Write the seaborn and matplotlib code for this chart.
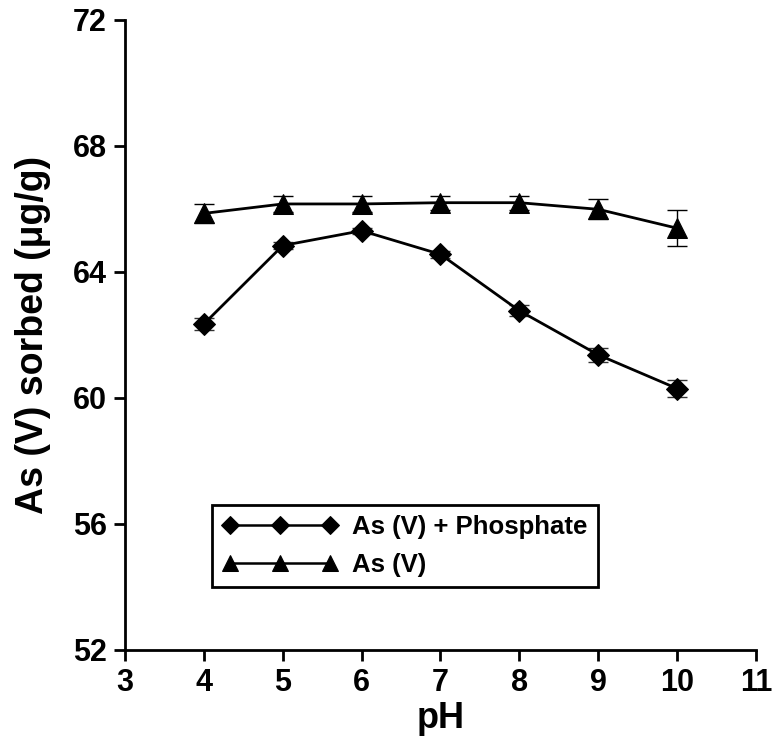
import matplotlib
matplotlib.use("Agg")
import matplotlib.pyplot as plt
import numpy as np
import pandas as pd
import seaborn as sns

ph = [4, 5, 6, 7, 8, 9, 10]
as_phosphate = [62.35, 64.84, 65.31, 64.56, 62.77, 61.37, 60.30]
as_phosphate_err = [0.20, 0.10, 0.10, 0.10, 0.18, 0.22, 0.28]
as_only = [65.86, 66.16, 66.16, 66.20, 66.20, 65.99, 65.39]
as_only_err = [0.30, 0.25, 0.25, 0.22, 0.22, 0.32, 0.57]

x_ticks = [3, 4, 5, 6, 7, 8, 9, 10, 11]
y_ticks = [52, 56, 60, 64, 68, 72]

sns.set_style("ticks")
plt.rcParams["font.family"] = ["Liberation Sans", "DejaVu Sans"]
plt.rcParams["font.weight"] = "bold"
plt.rcParams["text.color"] = "black"
plt.rcParams["axes.labelcolor"] = "black"
plt.rcParams["xtick.color"] = "black"
plt.rcParams["ytick.color"] = "black"

df_p = pd.DataFrame({"pH": ph, "sorbed": as_phosphate})
df_a = pd.DataFrame({"pH": ph, "sorbed": as_only})

fig = plt.figure(figsize=(7.73, 7.46), dpi=100)
ax = fig.add_axes([0.1617, 0.1287, 0.8163, 0.8445])

ax.errorbar(ph, as_phosphate, yerr=as_phosphate_err, fmt="none", ecolor="#333333",
            elinewidth=1, capsize=7, capthick=1, zorder=1)
ax.errorbar(ph, as_only, yerr=as_only_err, fmt="none", ecolor="black",
            elinewidth=1, capsize=7, capthick=1, zorder=1)

sns.lineplot(data=df_p, x="pH", y="sorbed", ax=ax, color="black", lw=2,
             marker="D", markersize=11, markeredgecolor="black",
             label="As (V) + Phosphate", zorder=3)
sns.lineplot(data=df_a, x="pH", y="sorbed", ax=ax, color="black", lw=2,
             marker="^", markersize=15, markeredgecolor="black",
             label="As (V)", zorder=3)

ax.set_xlim(3, 11)
ax.set_ylim(52, 72)
ax.set_xticks(x_ticks)
ax.set_yticks(y_ticks)
ax.tick_params(axis="both", direction="out", length=8, width=2, labelsize=22, pad=5)
for lab in ax.get_xticklabels() + ax.get_yticklabels():
    lab.set_fontweight("bold")
sns.despine(ax=ax)
for side in ["left", "bottom"]:
    ax.spines[side].set_linewidth(2)
    ax.spines[side].set_color("black")

ax.set_xlabel("pH", fontsize=26, fontweight="bold", labelpad=2)
ax.set_ylabel("As (V) sorbed (μg/g)", fontsize=27, fontweight="bold")
ax.yaxis.set_label_coords(-0.118, 0.5)

handles, labels = ax.get_legend_handles_labels()
leg = ax.legend(handles, labels, loc="upper left", bbox_to_anchor=(0.138, 0.230),
                numpoints=3, handlelength=4.5, fontsize=18.5, frameon=True, fancybox=False,
                framealpha=1, borderpad=0.4, labelspacing=0.53, handletextpad=0.55,
                borderaxespad=0)
leg.get_frame().set_edgecolor("black")
leg.get_frame().set_linewidth(2)
for t in leg.get_texts():
    t.set_fontweight("bold")
for h, ms in zip(leg.legend_handles, [9, 12]):
    h.set_markersize(ms)
    h.set_linewidth(1.8)

fig.savefig("out.png", dpi=100)
